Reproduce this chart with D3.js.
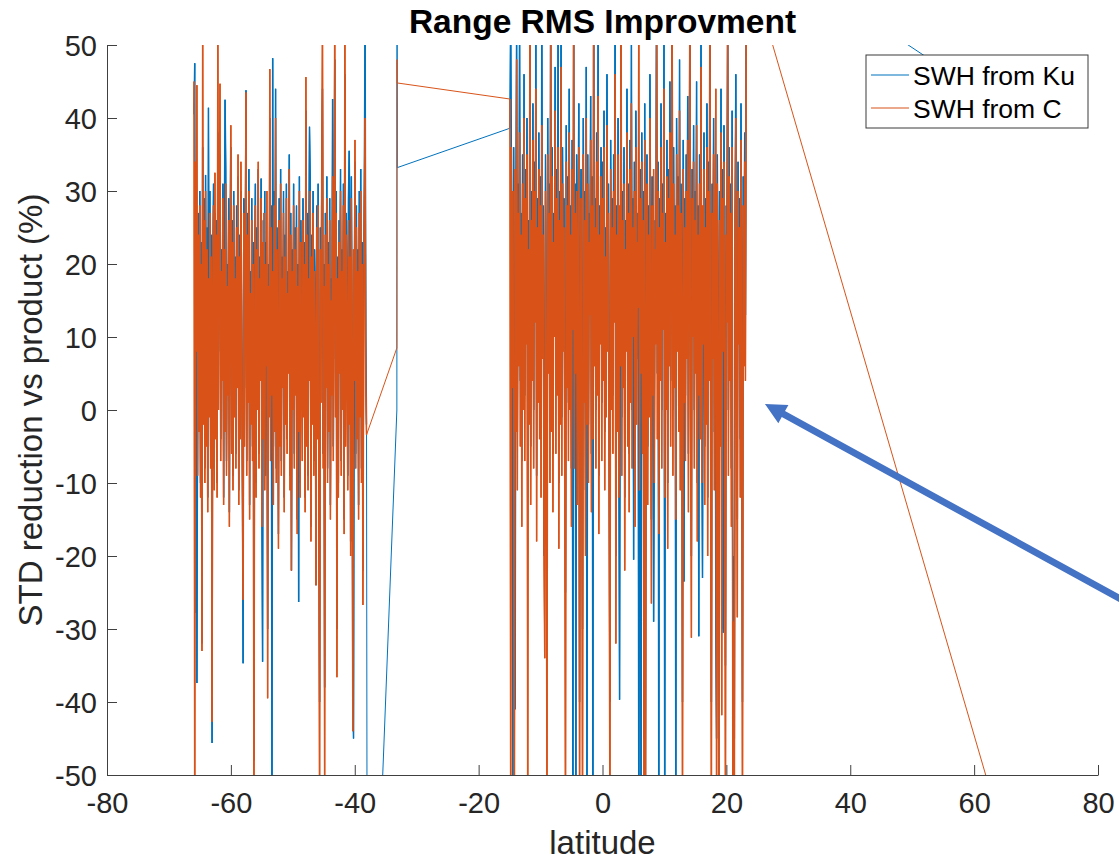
<!DOCTYPE html>
<html>
<head>
<meta charset="utf-8">
<script src="https://cdn.jsdelivr.net/npm/d3@7"></script>
<style>
  html, body { margin: 0; padding: 0; background: #ffffff; }
  svg { display: block; font-family: "Liberation Sans", Arial, Helvetica, sans-serif; }
</style>
</head>
<body>
<svg id="chart" width="1119" height="861"></svg>
<script>
// ---------------- DATA ----------------
const titleText = "Range RMS Improvment";
const xLabelText = "latitude";
const yLabelText = "STD reduction vs product (%)";
const seriesNames = ["SWH from Ku", "SWH from C"];
const xTicks = [-80, -60, -40, -20, 0, 20, 40, 60, 80];
const yTicks = [-50, -40, -30, -20, -10, 0, 10, 20, 30, 40, 50];

// southern pass: latitudes from -65.95 to -38.1 (track samples, evenly spaced)
const leftLatStart = -65.95, leftLatEnd = -38.1;
const kuLeft = [
  40.5, 47.5, -27.8, 18, -37.4, 6, 27, -2, 30, -10,
  23, -32, 36, 5, 29, -8, 32.2, 3, 25, -12,
  41.4, 8, 30, -5, 24, -45.6, 18, 31, -8, 27,
  4, 26, -10, 38, 8, 28, 35, -4, 22, 12,
  31, -12, 24, 42.5, 33, -7, 20, 10, 29, -14,
  23, 36, 2, 26, -9, 30, 7, 21, -6, 28,
  10, 32, -11, 24, 5, 30, 14, -8, -34.7, 29,
  3, 22, 43.8, -7, 27, 9, 33, -13, 19, 6,
  29, -5, 23, -48, 17, 31, -10, 25, 8, 33,
  -6, 21, 12, 31.7, -14, -34.5, 26, 4, 30, -9,
  23, 14, -30, 20, 7, 40, 1, 28, -60, 48.2,
  -5, 30, 5, 44, -8, 25, 16, -17, 29, 3,
  33, -7, 21, 11, 30, -12, 24, 6, 31, -4,
  19, 13, 35, -9, 27, -22, 22, 8, 31, -6,
  25, 10, 28, -15, 20, -26.3, 32, -10, 26, 14,
  1, 29, 7, 23, -12, 41, 3, 27, -9, 21,
  38.8, 32, -16, 24, 6, 30, -7, 22, 15, -24,
  28, 4, 31, -11, -40, 25, 9, 34, 44, -6,
  20, -38, 27, 11, 32, -8, 23, 5, 29, -13,
  18, 10, 42.6, -5, 24, 48, 7, 30, -30, 21,
  -10, 26, 13, 33, -7, 22, 8, 31, -15, 46,
  3, 27, 16, -9, 29, 35.5, 24, -18, 32, 9,
  -38, -45, 12, 34, -6, 28, 4, 22, -13, 30,
  7, 33, -8, 23, -22, 15, 31, 55, 10, -2
];
const cLeft = [
  45, -62, 34, 8, 44.5, -9, 24, -3, 28, -12,
  20, -33, 55, -2, 26, -10, 30, -5, 22, -14,
  18, -1, 27, -8, 21, -42.7, 15, 28, -11, 32.5,
  -4, 24, -12, 55, 0, 25, 44.7, -7, 19, 4,
  29, -13, 22, -3, 31, -9, 17, 2, 26, -16,
  20, 39, -6, 23, -11, 28, -1, 18, -8, 25,
  3, 35, -13, 21, -4, 34, 8, -10, -26, 27,
  -5, 19, 43.5, -9, 24, 1, 30, -15, 16, -2,
  26, -7, 20, -62, 10, 28, -12, 22, 0, 34,
  -8, 18, 4, 29, -16, 23, -4, 27, -11, 20,
  6, 30, -39.5, 17, -1, 46.7, -7, 25, 2, 19,
  -13, 28, -3, 40, -10, 22, 8, -19, 26, -5,
  31, -9, 18, 3, 27, -14, 21, -2, 29, -6,
  16, 5, 33, -11, 24, -22, 19, 0, 28, -8,
  22, 2, 25, -17, 17, -3, 30, -12, 23, 6,
  -7, 26, -1, 20, -14, 45.6, -5, 24, -11, 18,
  4, 30, -18, 21, -2, 27, -9, 19, 7, -24,
  25, -4, 28, -13, -58, 22, 1, 31, 55, -8,
  17, -55, 24, 3, 29, -10, 20, -3, 26, -15,
  15, 2, 32, -7, 21, 55, -1, 27, -36.6, 18,
  -12, 23, 5, 30, -9, 19, 0, 28, -17, 55,
  -5, 24, 8, -11, 26, -2, 21, -20, 29, 1,
  -44, 22, 4, 37, -8, 25, -4, 19, -15, 27,
  -1, 30, -10, 20, -26.7, 7, 28, 40, 3, -3.4
];

// isolated samples between the two passes [latitude, value]
const kuGap = [[-37.95, -104], [-33.2, 0], [-33.17, 62], [-33.14, 33.2]];
const cGap  = [[-33.2, 8.5], [-33.17, 48], [-33.14, 44.8]];

// tropical pass: latitudes from -14.94 to 23.2
const rightLatStart = -14.94, rightLatEnd = 23.2;
const kuRight = [
  38.6, 55, 30, 12, -60, 36, 5, -41, 28, 52,
  -3, 31, 14, 55, 4, 27, -7, 35, 9, 46,
  2, 33, 18, 40, -12, 26, 7, 60, -5, 30,
  13, 42, 0, 34, 21, 50, -9, 29, 10, 38,
  5, 32, -4, 55, 16, 28, -20, -8, 35, 8,
  -30, 40, 14, 31, -2, 58, 6, 36, -6, 27,
  19, 47, 3, 33, 11, 55, -10, 30, 7, 52,
  -1, 36, 17, 29, -3, -25, 39, 12, 32, 1,
  44, 9, 28, -8, 37, -60, 60, 0, 31, -60,
  35, -5, 26, 42, -40, 16, 33, 2, -30, 40,
  10, 30, -11, 47, -60, 35, -2, 27, 22, 43,
  -6, 32, -60, 62, 15, 29, 0, 38, 11, 50,
  -9, 28, 18, 36, 1, 34, 13, 41, -3, 25,
  8, 46, 17, 31, -7, -40, 37, 9, 29, 2,
  35, 21, 55, -20, 28, 6, 40, -4, -39.7, 15,
  60, -1, 30, 12, 36, -12, 26, 17, 44, 4,
  31, -6, 37, 10, 50, 0, 29, -20.5, 34, -8,
  41, 7, 27, 23, -60, -3, 33, -60, 38, 2,
  30, -45, 42, -50, 16, 35, -5, 28, 8, 46,
  22, -15, 32, 11, -29, -2, 26, 18, 60, 5,
  34, -60, 29, 13, 42, 0, 31, 20, 50, -60,
  27, 9, 37, -10, 33, 15, 45, 4, 30, 58,
  0, 36, 12, 28, -60, 40, 17, 32, 6, 48,
  -3, 31, 21, -40, 37, -23.5, 29, 2, 35, 16,
  43, -6, 26, 60, 8, -20, 33, 19, 39, 0,
  30, 14, 45, -10, 28, -31, 35, 5, 52, -2,
  -23, 18, 38, -5, 29, 7, 42, -12, 34, 13,
  60, 1, -40, 31, 16, 40, -3, 27, -30.5, -45,
  35, 12, -50, 30, 4, 44, -30, 33, -30.5, 39,
  9, -35, 28, 21, 58, 0, 36, 13, 31, -8,
  41, -38, -20, -45, 26, 46, 10, -15, 34, 18,
  29, -4, 42, 7, -40, 32, 15, 38, 13, 55
];
const cRight = [
  42.6, -60, 36, 3, 30, -9, -60, 33, -3, 48,
  -11, 27, 6, 38, -5, 24, -16, 31, 0, 40,
  -7, 29, 9, 35, -60, 22, -2, 55, -13, 26,
  4, 37, -8, 30, 12, 44, -18, 25, 1, 33,
  -4, 28, -12, 39, 7, 24, -21, -34, 30, -1,
  -60, 35, 5, 27, -10, 55, -3, 32, -14, 23,
  10, 41, -6, 29, 2, 36, -19, 26, -2, 47,
  -9, 31, 8, 25, -11, -60, 34, 3, 28, -7,
  38, 0, 24, -16, 33, 11, 55, -8, 27, 5,
  30, -13, 22, 36, -60, 7, 29, -6, -60, 35,
  1, 26, -20, 40, -2, 31, -10, 23, 13, 37,
  -14, 28, -4, 55, 6, 25, -8, 34, 2, 43,
  -17, 24, 9, 32, -7, 29, 4, 36, -11, 21,
  -1, 39, 8, 27, -15, -60, 33, 0, 25, -6,
  30, 12, 46, -32, 24, -3, 35, -12, 28, 6,
  55, -9, 26, 3, 31, -22, 22, 8, 38, -5,
  27, -14, 33, 1, 42, -8, 25, 10, 30, -16,
  36, -2, 23, 14, 55, -11, 29, 5, 34, -6,
  26, -60, 37, -60, 7, 31, -13, 24, -1, 40,
  13, -26.5, 28, 2, 33, -10, 22, 9, 55, -4,
  30, -17, 25, 4, 36, -8, 27, 11, 44, -12,
  23, 0, 32, -19, 29, 6, 38, -5, 26, 55,
  -9, 31, 3, 24, -15, 35, 8, 28, -3, 41,
  -11, 27, 12, -60, 33, 1, 25, -7, 30, 7,
  37, -14, 22, 55, -1, -31.2, 29, 10, 34, -8,
  26, 5, 39, -18, 24, 2, 31, -4, 47, -10,
  28, 9, 33, -13, 25, -2, 36, -20, 30, 4,
  55, -7, -60, 27, 7, 35, -11, 23, 44, -60,
  31, 3, -60, 26, -5, 38, -41.8, 29, 8, 34,
  0, -60, 24, 12, 55, -9, 32, 4, 27, -16,
  36, -60, -29, -60, 22, 40, 1, -28.4, 30, 9,
  25, -12, 37, -2, -60, 28, 6, 34, 4, 50
];

// trailing samples after the tropical pass [latitude, value]
const kuTail = [[23.35, 64.6], [62, 42.9]];
const cTail  = [[23.35, 62], [66, -62]];

// annotation arrow (data coordinates): from tail to tip
const arrowFrom = [85.2, -26.6];
const arrowTo   = [26.23, 0.82];

// ---------------- BUILD SERIES ----------------
function pass(values, lat0, lat1) {
  const step = (lat1 - lat0) / (values.length - 1);
  return values.map((v, i) => [lat0 + i * step, v]);
}
const kuPasses = [pass(kuLeft, leftLatStart, leftLatEnd), pass(kuRight, rightLatStart, rightLatEnd)];
const cPasses  = [pass(cLeft, leftLatStart, leftLatEnd), pass(cRight, rightLatStart, rightLatEnd)];
const kuSeries = [].concat(kuPasses[0], kuGap, kuPasses[1], kuTail);
const cSeries  = [].concat(cPasses[0], cGap, cPasses[1], cTail);

// ---------------- DRAW ----------------
const colors = ["#0072BD", "#D95319"];
const svg = d3.select("#chart");
const plot = { left: 107, right: 1098, top: 45, bottom: 775 };

const x = d3.scaleLinear().domain([-80, 80]).range([plot.left, plot.right]);
const y = d3.scaleLinear().domain([-50, 50]).range([plot.bottom, plot.top]);

svg.append("defs").append("clipPath").attr("id", "clip")
  .append("rect")
  .attr("x", plot.left).attr("y", plot.top)
  .attr("width", plot.right - plot.left).attr("height", plot.bottom - plot.top);

const line = d3.line().x(d => x(d[0])).y(d => y(d[1]));

const lines = svg.append("g").attr("clip-path", "url(#clip)");
[[kuSeries, kuPasses], [cSeries, cPasses]].forEach(([full, passes], k) => {
  // whole series as a thin line (connecting segments)
  lines.append("path")
    .datum(full)
    .attr("fill", "none")
    .attr("stroke", colors[k])
    .attr("stroke-width", 1)
    .attr("d", line);
  // densely sampled passes
  passes.forEach(p => {
    lines.append("path")
      .datum(p)
      .attr("fill", "none")
      .attr("stroke", colors[k])
      .attr("stroke-width", 1.5)
      .attr("stroke-linejoin", "bevel")
      .attr("d", line);
  });
});

// axes
const axisColor = "#404040";
const textColor = "#262626";
const xAxis = svg.append("g")
  .attr("transform", `translate(0,${plot.bottom})`)
  .call(d3.axisBottom(x).tickValues(xTicks).tickSize(-10).tickSizeOuter(0).tickFormat(d3.format("d")));
xAxis.selectAll("text").attr("dy", null).attr("y", 38);

const yAxis = svg.append("g")
  .attr("transform", `translate(${plot.left},0)`)
  .call(d3.axisLeft(y).tickValues(yTicks).tickSize(-10).tickSizeOuter(0).tickFormat(d3.format("d")));
yAxis.selectAll("text").attr("x", -10).attr("dy", "0.36em");

[xAxis, yAxis].forEach(g => {
  g.select(".domain").attr("stroke", axisColor).attr("stroke-width", 1);
  g.selectAll(".tick line").attr("stroke", axisColor).attr("stroke-width", 1);
  g.selectAll("text")
    .attr("fill", textColor)
    .style("font-size", "29px")
    .style("font-family", '"Liberation Sans", Arial, Helvetica, sans-serif')
    .text(d => d < 0 ? "-" + Math.abs(d) : String(d));
});

// title & labels
const cx = (plot.left + plot.right) / 2;
svg.append("text")
  .attr("x", cx).attr("y", 33)
  .attr("text-anchor", "middle")
  .attr("fill", "#000")
  .style("font-size", "33.5px").style("font-weight", "bold")
  .text(titleText);

svg.append("text")
  .attr("x", cx).attr("y", 854)
  .attr("text-anchor", "middle")
  .attr("fill", textColor)
  .style("font-size", "33px")
  .text(xLabelText);

svg.append("text")
  .attr("transform", `translate(42,${(plot.top + plot.bottom) / 2}) rotate(-90)`)
  .attr("text-anchor", "middle")
  .attr("fill", textColor)
  .style("font-size", "33px")
  .text(yLabelText);

// legend (north-east)
const lg = svg.append("g").attr("transform", `translate(${plot.right - 232},${plot.top + 10})`);
lg.append("rect")
  .attr("x", 0).attr("y", 0).attr("width", 222).attr("height", 73)
  .attr("fill", "#fff").attr("stroke", "#3a3a3a").attr("stroke-width", 1);
seriesNames.forEach((name, i) => {
  const yy = 20 + i * 33;
  lg.append("line")
    .attr("x1", 5).attr("x2", 43).attr("y1", yy).attr("y2", yy)
    .attr("stroke", colors[i]).attr("stroke-width", 1.1);
  lg.append("text")
    .attr("x", 47).attr("y", yy + 10)
    .attr("fill", "#000")
    .style("font-size", "26.5px")
    .text(name);
});

// annotation arrow
(function drawArrow() {
  const x0 = x(arrowFrom[0]), y0 = y(arrowFrom[1]);
  const x1 = x(arrowTo[0]), y1 = y(arrowTo[1]);
  const dx = x1 - x0, dy = y1 - y0, len = Math.hypot(dx, dy);
  const ux = dx / len, uy = dy / len, px = -uy, py = ux;
  const headLen = 21, headW = 10.5, shaftW = 3.4;
  const bx = x1 - ux * headLen, by = y1 - uy * headLen;
  const pts = [
    [x0 + px * shaftW, y0 + py * shaftW],
    [bx + px * shaftW, by + py * shaftW],
    [bx + px * headW, by + py * headW],
    [x1, y1],
    [bx - px * headW, by - py * headW],
    [bx - px * shaftW, by - py * shaftW],
    [x0 - px * shaftW, y0 - py * shaftW]
  ];
  svg.append("path")
    .attr("d", "M" + pts.map(p => p.join(",")).join("L") + "Z")
    .attr("fill", "#4472C4");
})();
</script>
</body>
</html>
